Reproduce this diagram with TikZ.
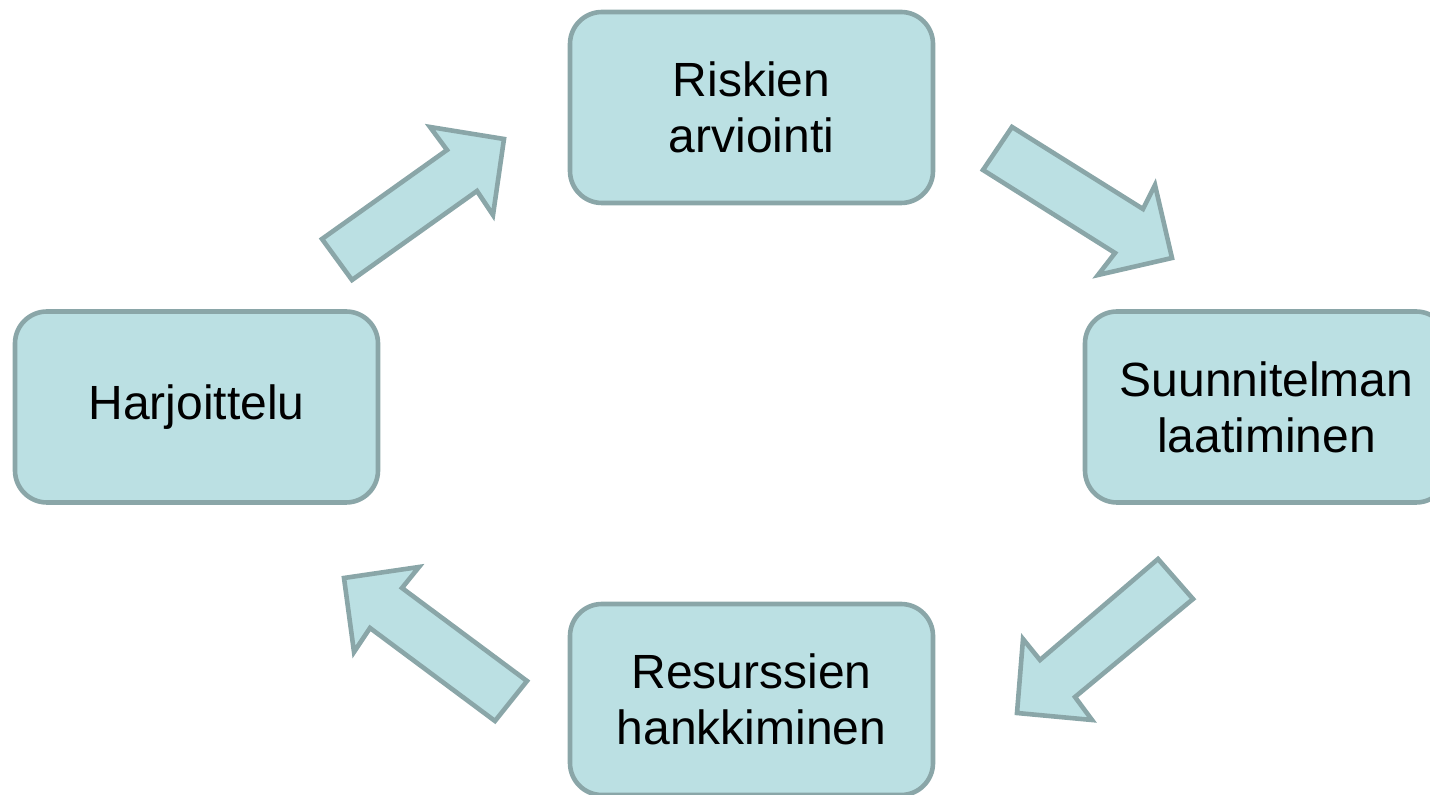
\documentclass[tikz,border=0pt]{standalone}
\usepackage{fontspec}
\setmainfont{Liberation Sans}
\definecolor{boxfill}{HTML}{BBE0E3}
\definecolor{boxline}{HTML}{8AA6A8}
\begin{document}
\begin{tikzpicture}[x=0.5pt,y=-0.5pt,
  stepbox/.style={draw=boxline, fill=boxfill, line width=2.3pt, rounded corners=16pt,
    minimum width=181.5pt, minimum height=95.5pt, align=center,
    font=\fontsize{24}{28}\selectfont, text=black, inner sep=0pt},
  blockarrow/.style={draw=boxline, fill=boxfill, line width=2.3pt, line join=miter}]
\useasboundingbox (0,0) rectangle (1430,795);
\clip (0,0) rectangle (1430,795);
\node[stepbox] (risk) at (751.5,107.5) {Riskien\\arviointi};
\node[stepbox] (plan) at (1266.5,407) {Suunnitelman\\laatiminen};
\node[stepbox] (res) at (751.5,699.5) {Resurssien\\hankkiminen};
\node[stepbox] (harj) at (196.5,407) {\raisebox{-1.5pt}{Harjoittelu}};
% block arrows
\draw[blockarrow] (322,239) -- (447,150) -- (430,127) -- (504,139) -- (493,215) -- (477,191) -- (352,280) -- cycle;
\draw[blockarrow] (1012,127) -- (1143,209) -- (1155,185) -- (1172,258) -- (1098,275) -- (1115,253) -- (983,170) -- cycle;
\draw[blockarrow] (1158,559) -- (1193,599) -- (1075,697) -- (1092,720) -- (1017,713) -- (1023,639) -- (1040,660) -- cycle;
\draw[blockarrow] (527,681) -- (495,721) -- (370,628) -- (354,652) -- (344,578) -- (419,567) -- (402,588) -- cycle;
\end{tikzpicture}
\end{document}
